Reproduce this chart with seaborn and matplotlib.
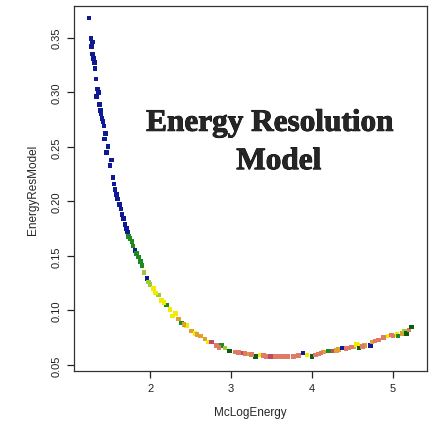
import matplotlib
matplotlib.use("Agg")
import matplotlib.pyplot as plt
import matplotlib.patheffects as pe
import seaborn as sns
import pandas as pd

# points (McLogEnergy, EnergyResModel, colour group)
mc_log_energy = [
    1.247, 1.268, 1.288, 1.288, 1.30, 1.32, 1.333, 1.35, 1.34, 1.374, 1.39, 1.407, 1.432,
    1.42, 1.44, 1.465, 1.506, 1.54, 1.568, 1.597, 1.64, 1.67, 1.71,
    1.73, 1.72, 1.774, 1.815, 1.856, 1.90, 1.926, 1.96, 2.0, 2.04, 2.10, 2.144, 2.20,
    2.247, 2.31, 2.35, 2.39, 2.45, 2.51, 2.556, 2.625, 2.68, 2.72, 2.76, 2.82, 2.885,
    2.926, 2.98, 3.05, 3.13, 3.21, 3.30, 3.36, 3.44, 3.54, 3.645, 3.77, 3.89, 3.94,
    4.0, 4.08, 4.14, 4.20, 4.26, 4.33, 4.38, 4.45, 4.51, 4.56, 4.49, 4.55, 4.58, 4.65,
    4.72, 4.74, 4.82, 4.88, 4.94, 5.0, 5.05, 5.06, 5.11, 5.14, 5.17, 5.20, 5.23,
    # extra marks seen between the ones above
    1.275, 1.31, 1.36, 1.395, 1.45, 1.48, 1.52, 1.555, 1.585, 1.62, 1.655, 1.69,
    1.75, 1.79, 1.835, 1.88, 1.98, 2.07, 2.17, 2.28, 2.42, 2.58, 2.85, 3.09, 3.17,
    3.25, 3.40, 3.49, 3.59, 3.70, 3.83, 4.04, 4.11, 4.30, 4.42, 4.62, 4.78, 4.98,
]
energy_res_model = [
    0.368, 0.349, 0.346, 0.335, 0.331, 0.322, 0.312, 0.303, 0.296, 0.289, 0.283, 0.276, 0.269,
    0.273, 0.257, 0.245, 0.233, 0.222, 0.211, 0.202, 0.193, 0.184, 0.175,
    0.168, 0.172, 0.163, 0.155, 0.149, 0.141, 0.135, 0.129, 0.124, 0.120, 0.114, 0.109, 0.105,
    0.101, 0.097, 0.092, 0.0885, 0.086, 0.081, 0.079, 0.0766, 0.074, 0.071, 0.071, 0.0676, 0.068,
    0.0655, 0.063, 0.062, 0.061, 0.060, 0.058, 0.059, 0.058, 0.058, 0.058, 0.058, 0.061, 0.059,
    0.058, 0.060, 0.062, 0.063, 0.063, 0.064, 0.0656, 0.0656, 0.0665, 0.0683, 0.0665, 0.069, 0.0656, 0.068,
    0.068, 0.071, 0.073, 0.075, 0.0766, 0.0766, 0.078, 0.0766, 0.079, 0.081, 0.079, 0.082, 0.085,
    0.342, 0.327, 0.300, 0.280, 0.262, 0.250, 0.238, 0.216, 0.206, 0.197, 0.188, 0.179,
    0.166, 0.159, 0.152, 0.145, 0.126, 0.116, 0.107, 0.095, 0.087, 0.078, 0.066, 0.0615, 0.0605,
    0.0595, 0.0585, 0.058, 0.058, 0.058, 0.0585, 0.059, 0.061, 0.0635, 0.065, 0.067, 0.072, 0.0775,
]
group = [
    "b", "b", "b", "b", "b", "b", "b", "b", "b", "b", "b", "b", "b",
    "b", "b", "b", "b", "b", "b", "b", "b", "b", "b",
    "g", "b", "g", "b", "g", "g", "yg", "b", "yg", "y", "yg", "y", "g",
    "y", "y", "o", "g", "y", "o", "y", "o", "o", "y", "r", "s", "g",
    "yg", "dg", "s", "r", "o", "dg", "y", "s", "s", "s", "s", "b", "y",
    "dg", "s", "o", "g", "r", "o", "b", "s", "o", "y", "s", "y", "dg", "o",
    "b", "o", "s", "s", "y", "s", "y", "g", "o", "yg", "dg", "s", "dg",
    "b", "b", "b", "b", "b", "b", "b", "b", "b", "b", "b", "b",
    "g", "g", "g", "g", "yg", "y", "y", "y", "o", "o", "s", "s", "s",
    "s", "s", "r", "s", "s", "s", "s", "s", "o", "s", "s", "s", "s",
]

palette = {
    "b": "#0d1a94", "g": "#1f8a1f", "dg": "#0b5e0b", "yg": "#9acd32",
    "y": "#f2ea00", "o": "#e0a030", "s": "#de7a66", "r": "#c04a66",
}

df = pd.DataFrame({"McLogEnergy": mc_log_energy,
                   "EnergyResModel": energy_res_model,
                   "grp": group})

sns.set_style("white")
plt.rcParams["font.family"] = ["Liberation Sans", "DejaVu Sans"]

fig = plt.figure(figsize=(4.32, 4.27), dpi=100)
ax = fig.add_axes([74 / 432, 1 - 372 / 427, 353 / 432, 365 / 427])

sns.scatterplot(data=df, x="McLogEnergy", y="EnergyResModel", hue="grp",
                palette=palette, s=11, marker="s", linewidth=0,
                legend=False, ax=ax)

ax.set_xlim(1.06, 5.42)
ax.set_ylim(0.0445, 0.379)
ax.set_xticks([2, 3, 4, 5])
ax.set_yticks([0.05, 0.10, 0.15, 0.20, 0.25, 0.30, 0.35])
ax.set_xticklabels(["2", "3", "4", "5"])
ax.set_yticklabels(["0.05", "0.10", "0.15", "0.20", "0.25", "0.30", "0.35"],
                   rotation=90, va="center")
ax.tick_params(bottom=True, left=True, direction="out", length=5, width=0.9,
               colors="#222222", labelsize=8, pad=4)
for sp in ax.spines.values():
    sp.set_visible(True)
    sp.set_color("#333333")
    sp.set_linewidth(0.9)

ax.set_xlabel("McLogEnergy", fontsize=8.5, labelpad=9)
ax.set_ylabel("EnergyResModel", fontsize=8.5, labelpad=9)

# bold face of the serif font is not available, thicken the strokes a little
bold = [pe.withStroke(linewidth=0.6, foreground="black")]
ax.text(0.555, 0.658, "Energy Resolution", transform=ax.transAxes,
        ha="center", va="baseline", fontsize=22.5, fontweight="bold",
        family=["Liberation Serif", "DejaVu Serif"], path_effects=bold)
ax.text(0.58, 0.553, "Model", transform=ax.transAxes,
        ha="center", va="baseline", fontsize=22.5, fontweight="bold",
        family=["Liberation Serif", "DejaVu Serif"], path_effects=bold)

fig.savefig("out.png", dpi=100)
